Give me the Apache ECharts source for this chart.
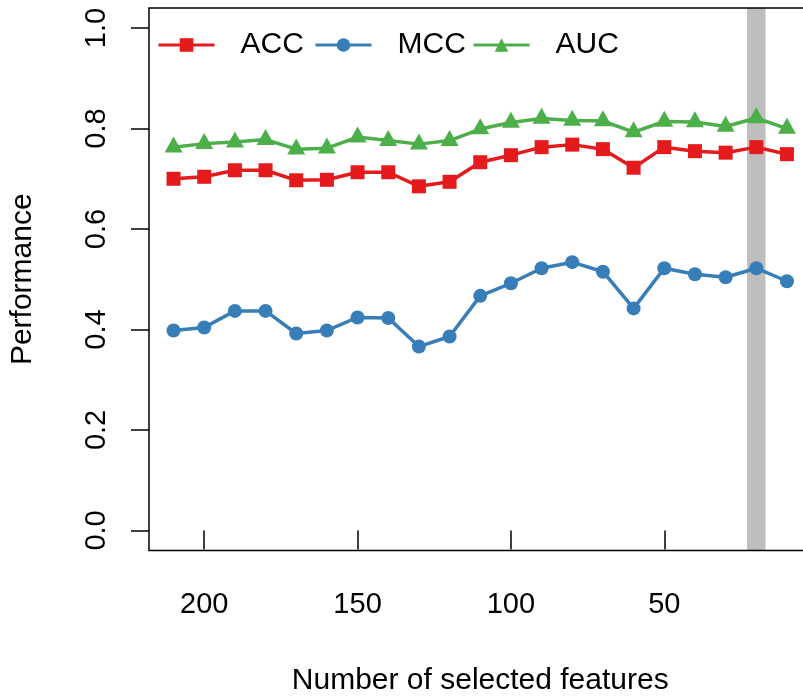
<!DOCTYPE html>
<html>
<head>
<meta charset="utf-8">
<script src="https://cdn.jsdelivr.net/npm/echarts@6/dist/echarts.min.js"></script>
<style>html,body{margin:0;padding:0;background:#fff}#c{width:803px;height:697px}</style>
</head>
<body>
<div id="c"></div>
<script>
var features = [210,200,190,180,170,160,150,140,130,120,110,100,90,80,70,60,50,40,30,20,10];
var acc = [0.700,0.704,0.717,0.717,0.697,0.698,0.713,0.713,0.685,0.694,0.733,0.747,0.763,0.768,0.759,0.722,0.763,0.755,0.752,0.763,0.749];
var mcc = [0.398,0.404,0.437,0.437,0.392,0.398,0.424,0.423,0.366,0.386,0.467,0.492,0.522,0.534,0.515,0.442,0.522,0.510,0.504,0.522,0.496];
var auc = [0.763,0.770,0.773,0.778,0.759,0.761,0.783,0.776,0.769,0.776,0.799,0.812,0.820,0.816,0.815,0.793,0.814,0.813,0.804,0.821,0.800];
var xTicks = [50,100,150,200];
var yTicks = [0,0.2,0.4,0.6,0.8,1.0];
var bandRange = [17,23];

var FONT = 'Liberation Sans, Arial, Helvetica, sans-serif';
function pairs(ys){ return features.map(function(x,i){ return [x, ys[i]]; }); }

var chart = echarts.init(document.getElementById('c'), null, {renderer:'canvas'});
var legendBase = {
  orient:'horizontal', top: 30, padding:0, itemWidth: 56, itemHeight: 17, selectedMode:false,
  lineStyle:{width:3},
  textStyle:{fontFamily:FONT, fontSize:30, color:'#000', padding:[0,0,0,21]}
};
chart.setOption({
  animation:false,
  backgroundColor:'#fff',
  textStyle:{fontFamily:FONT},
  grid:{left:149, top:8, width:662.5, bottom:146.5, outerBoundsMode:'none', containLabel:false,
    show:true, borderColor:'#000', borderWidth:1.5, backgroundColor:'transparent', z:3},
  legend:[
    Object.assign({}, legendBase, {data:['ACC'], left:157}),
    Object.assign({}, legendBase, {data:['MCC'], left:314}),
    Object.assign({}, legendBase, {data:['AUC'], left:472})
  ],
  xAxis:{
    type:'value', inverse:true, min:2, max:218,
    name:'Number of selected features', nameLocation:'middle', nameGap:115,
    nameTextStyle:{fontFamily:FONT, fontSize:30, color:'#000'},
    splitLine:{show:false},
    axisLine:{show:false},
    axisTick:{show:true, customValues:xTicks, length:19, lineStyle:{color:'#000', width:1.5}},
    axisLabel:{customValues:xTicks, fontFamily:FONT, fontSize:29, color:'#000', margin:40}
  },
  yAxis:{
    type:'value', min:-0.04, max:1.04,
    name:'Performance', nameLocation:'middle', nameGap:111, nameRotate:90,
    nameTextStyle:{fontFamily:FONT, fontSize:30, color:'#000'},
    splitLine:{show:false},
    axisLine:{show:false},
    axisTick:{show:true, customValues:yTicks, length:18, lineStyle:{color:'#000', width:1.5}},
    axisLabel:{customValues:yTicks, rotate:90, fontFamily:FONT, fontSize:29, color:'#000', margin:38,
      formatter:function(v){ return v.toFixed(1); }}
  },
  series:[
    {type:'line', name:'band', data:[], silent:true, z:1,
      markArea:{silent:true, itemStyle:{color:'#BEBEBE'}, data:[[{xAxis:bandRange[0]},{xAxis:bandRange[1]}]]}},
    {type:'line', name:'ACC', data:pairs(acc), symbol:'rect', symbolSize:14,
      lineStyle:{color:'#E41A1C', width:3.5}, itemStyle:{color:'#E41A1C'}, z:4},
    {type:'line', name:'MCC', data:pairs(mcc), symbol:'circle', symbolSize:14,
      lineStyle:{color:'#377EB8', width:3.5}, itemStyle:{color:'#377EB8'}, z:4},
    {type:'line', name:'AUC', data:pairs(auc), symbol:'triangle', symbolSize:[18,16], symbolOffset:[0,-2.7],
      lineStyle:{color:'#4DAF4A', width:3.5}, itemStyle:{color:'#4DAF4A'}, z:4}
  ]
});
</script>
</body>
</html>
